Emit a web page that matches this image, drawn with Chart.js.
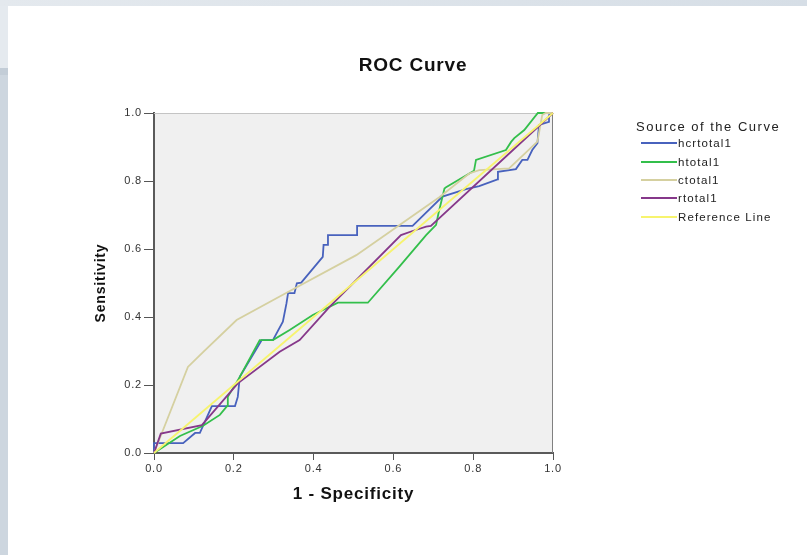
<!DOCTYPE html>
<html>
<head>
<meta charset="utf-8">
<script src="https://cdn.jsdelivr.net/npm/chart.js@4/dist/chart.umd.min.js"></script>
<style>
	html, body { margin: 0; padding: 0; background: #fff; }
	body { width: 807px; height: 555px; position: relative; overflow: hidden; font-family: 'Liberation Sans', Arial, sans-serif; }
	#rocChart { position: absolute; left: 0; top: 0; }
	.strip-top { position: absolute; left: 0; top: 0; width: 807px; height: 6px; background: linear-gradient(to right, #e4e9ee, #d6dee6); }
	.strip-left { position: absolute; left: 0; top: 6px; width: 8px; height: 549px; background: linear-gradient(to bottom, #e5eaef 0, #e5eaef 62px, #c3cdd7 62px, #c3cdd7 69px, #cdd6df 69px); }
	#legend { position: absolute; left: 636px; top: 120px; color: #222; }
	#legend .lg-title { font-size: 13px; line-height: 14px; letter-spacing: 1.5px; height: 14px; }
	#legend .lg-item { display: flex; align-items: center; height: 18.4px; font-size: 11.5px; letter-spacing: 1.1px; }
	#legend .lg-line { display: inline-block; width: 36px; height: 2px; margin: 0 1px 0 5px; }
</style>
</head>
<body>
<canvas id="rocChart" width="807" height="555"></canvas>
<div class="strip-top"></div>
<div class="strip-left"></div>
<div id="legend"></div>
<script>
const rocChart = document.getElementById('rocChart')

const legendTitle = 'Source of the Curve'
const seriesLabels = ['hcrtotal1', 'htotal1', 'ctotal1', 'rtotal1', 'Reference Line']
const seriesColors = ['#4862bd', '#33bf4b', '#d5d0a0', '#86388a', '#f7f46e']

// 1 - specificity / sensitivity pairs
const hcrX = [0, 0, 0.073, 0.103, 0.115, 0.145, 0.203, 0.21, 0.215, 0.27, 0.298, 0.323, 0.332, 0.336, 0.352, 0.358, 0.369, 0.423, 0.425, 0.436, 0.436, 0.509, 0.509, 0.648, 0.723, 0.782, 0.815, 0.861, 0.862, 0.907, 0.923, 0.936, 0.948, 0.961, 0.965, 0.99, 0.99, 1]
const hcrY = [0, 0.029, 0.029, 0.059, 0.059, 0.138, 0.138, 0.165, 0.224, 0.332, 0.332, 0.386, 0.44, 0.47, 0.47, 0.499, 0.501, 0.577, 0.612, 0.612, 0.641, 0.641, 0.668, 0.668, 0.754, 0.776, 0.785, 0.805, 0.827, 0.835, 0.862, 0.862, 0.891, 0.911, 0.965, 0.974, 0.994, 1]

const hX = [0, 0.065, 0.123, 0.165, 0.183, 0.185, 0.215, 0.265, 0.298, 0.34, 0.398, 0.461, 0.536, 0.615, 0.682, 0.707, 0.713, 0.728, 0.732, 0.802, 0.807, 0.882, 0.895, 0.903, 0.928, 0.962, 1]
const hY = [0, 0.05, 0.08, 0.112, 0.138, 0.165, 0.224, 0.332, 0.332, 0.362, 0.406, 0.442, 0.442, 0.548, 0.641, 0.671, 0.705, 0.778, 0.782, 0.83, 0.862, 0.891, 0.915, 0.926, 0.95, 1, 1]

const cX = [0, 0.085, 0.123, 0.207, 0.33, 0.507, 0.715, 0.79, 0.815, 0.89, 0.961, 0.973, 0.982, 1]
const cY = [0, 0.253, 0.297, 0.391, 0.47, 0.582, 0.752, 0.822, 0.832, 0.837, 0.916, 0.994, 1, 1]

const rX = [0, 0.017, 0.12, 0.21, 0.315, 0.365, 0.44, 0.619, 0.648, 0.682, 0.694, 1]
const rY = [0, 0.057, 0.082, 0.205, 0.298, 0.332, 0.43, 0.641, 0.653, 0.666, 0.668, 1]

const refX = [0, 1]
const refY = [0, 1]

const seriesX = [hcrX, hX, cX, rX, refX]
const seriesY = [hcrY, hY, cY, rY, refY]
const drawOrder = [4, 3, 2, 1, 0]

Chart.defaults.font.family = "'Liberation Sans', Arial, sans-serif"
Chart.defaults.color = '#333'

const spacing = {
	id: 'spacing',
	beforeLayout(chart) { chart.ctx.letterSpacing = '0.8px' },
	beforeDraw(chart) { chart.ctx.letterSpacing = '0.8px' },
}

const plotFrame = {
	id: 'plotFrame',
	beforeDraw(chart) {
		const { ctx, chartArea: a } = chart
		ctx.save()
		ctx.fillStyle = '#f0f0f0'
		ctx.fillRect(a.left, a.top, a.right - a.left, a.bottom - a.top)
		ctx.restore()
	},
	beforeDatasetsDraw(chart) {
		const { ctx, chartArea: a } = chart
		ctx.save()
		ctx.lineWidth = 1
		ctx.strokeStyle = '#c4c4c4'
		ctx.beginPath()
		ctx.moveTo(a.left, a.top + 0.5)
		ctx.lineTo(a.right, a.top + 0.5)
		ctx.stroke()
		ctx.strokeStyle = '#808080'
		ctx.beginPath()
		ctx.moveTo(a.right - 0.5, a.top)
		ctx.lineTo(a.right - 0.5, a.bottom)
		ctx.stroke()
		ctx.restore()
	},
}

const chart = new Chart(rocChart, {
	type: 'line',
	data: {
		datasets: seriesLabels.map((label, i) => ({
			label: label,
			data: seriesX[i].map((x, j) => ({ x: x, y: seriesY[i][j] })),
			borderColor: seriesColors[i],
			backgroundColor: seriesColors[i],
			borderWidth: 1.8,
			pointRadius: 0,
			tension: 0,
			fill: false,
			clip: 3,
			order: drawOrder[i],
		})),
	},
	options: {
		responsive: false,
		animation: false,
		devicePixelRatio: 1,
		events: [],
		layout: { padding: { left: 19, right: 0, top: 0, bottom: 0 } },
		plugins: {
			legend: { display: false },
			tooltip: { enabled: false },
			title: {
				display: true,
				text: 'ROC Curve',
				color: '#111',
				font: { size: 19, weight: 'bold', lineHeight: 1.2 },
				padding: { top: 54.6, bottom: 35.6 },
			},
		},
		scales: {
			x: {
				type: 'linear',
				position: 'bottom',
				min: 0,
				max: 1,
				afterFit: (scale) => { scale.height = 102 },
				ticks: { stepSize: 0.2, padding: 2, color: '#333', font: { size: 11 }, callback: (v) => v.toFixed(1), maxRotation: 0 },
				grid: { drawOnChartArea: false, drawTicks: true, tickLength: 7, color: '#555', lineWidth: 1 },
				border: { display: true, color: '#5a5a5a', width: 2 },
				title: { display: true, text: '1 - Specificity', color: '#111', font: { size: 17, weight: 'bold', lineHeight: 1.2 }, padding: { top: 0, bottom: 50.8 } },
			},
			y: {
				type: 'linear',
				position: 'left',
				min: 0,
				max: 1,
				afterFit: (scale) => { scale.width = 135 },
				ticks: { stepSize: 0.2, padding: 2, color: '#333', font: { size: 11 }, callback: (v) => v.toFixed(1) },
				grid: { drawOnChartArea: false, drawTicks: true, tickLength: 10, color: '#555', lineWidth: 1 },
				border: { display: true, color: '#5a5a5a', width: 2 },
				title: { display: true, text: 'Sensitivity', color: '#111', font: { size: 14, weight: 'bold', lineHeight: 1.2 }, padding: { top: 73.6, bottom: 0 } },
			},
			legendSpace: {
				type: 'linear',
				position: 'right',
				display: true,
				afterFit: (scale) => { scale.width = 254 },
				ticks: { display: false },
				grid: { display: false, drawTicks: false },
				border: { display: false },
			},
		},
	},
	plugins: [spacing, plotFrame],
})

document.getElementById('legend').innerHTML =
	`<div class="lg-title">${legendTitle}</div>` +
	chart.data.datasets
		.map((ds) => `<div class="lg-item"><span class="lg-line" style="background:${ds.borderColor}"></span>${ds.label}</div>`)
		.join('')
</script>
</body>
</html>
